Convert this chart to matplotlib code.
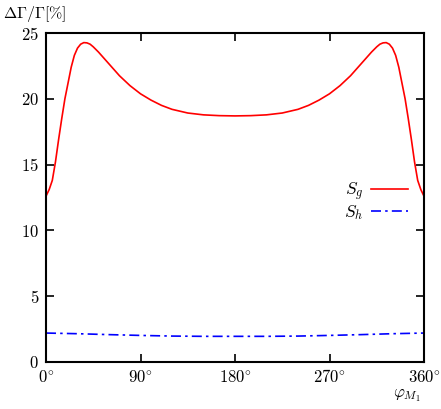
import matplotlib
matplotlib.use("Agg")
import matplotlib.pyplot as plt
import numpy as np

plt.rcParams['mathtext.fontset'] = 'cm'
plt.rcParams['font.family'] = 'serif'
plt.rcParams['font.serif'] = ['DejaVu Serif']

# data (half period, mirrored about 180 deg)
phi_half = [0, 3, 6, 9, 12, 15, 18, 21, 24, 27, 30, 33, 36, 39, 42, 45, 50, 55, 60, 70, 80, 90,
            100, 110, 120, 135, 150, 165, 180]
sg_half = [12.6, 13.1, 13.8, 15.2, 16.9, 18.5, 20.0, 21.2, 22.4, 23.3, 23.85, 24.15, 24.27, 24.25,
           24.15, 23.95, 23.55, 23.1, 22.65, 21.75, 21.0, 20.38, 19.9, 19.5, 19.2, 18.92, 18.78,
           18.72, 18.7]
phi_h_half = [0, 30, 60, 90, 120, 150, 180]
sh_half = [2.2, 2.15, 2.08, 2.02, 1.97, 1.95, 1.95]

phi = phi_half + [360 - p for p in phi_half[-2::-1]]
sg = sg_half + sg_half[-2::-1]
phi_h = phi_h_half + [360 - p for p in phi_h_half[-2::-1]]
sh = sh_half + sh_half[-2::-1]

xticks = [0, 90, 180, 270, 360]
xticklabels = [r'$0^{\circ}$', r'$90^{\circ}$', r'$180^{\circ}$', r'$270^{\circ}$', r'$360^{\circ}$']
yticks = [0, 5, 10, 15, 20, 25]

fig = plt.figure(figsize=(4.41, 4.09), dpi=100)
ax = fig.add_axes([46/441, 47/409, 378/441, 329/409])

ax.plot(phi, sg, color='#ff0000', lw=1.2, label=r'$S_g$')
ax.plot(phi_h, sh, color='#0000ff', lw=1.2, dashes=(6, 2.5, 1.5, 2.5), label=r'$S_h$')

ax.set_xlim(0, 360)
ax.set_ylim(0, 25)
ax.set_xticks(xticks)
ax.set_xticklabels(xticklabels)
ax.set_yticks(yticks)
ax.set_yticklabels([f'${v}$' for v in yticks])
ax.tick_params(direction='in', length=6, width=1.2, top=True, right=True, labelsize=12, pad=5)
for s in ax.spines.values():
    s.set_linewidth(1.5)

leg = ax.legend(loc='center right', bbox_to_anchor=(0.976, 0.487), frameon=False, markerfirst=False,
                fontsize=12.5, handlelength=2.13, handletextpad=0.45, labelspacing=0.0,
                borderpad=0.4, borderaxespad=0.0)

fig.text(3/441, 1 - 14/409, r'$\Delta\Gamma/\Gamma[\%]$', fontsize=11.5, va='center', ha='left')
fig.text(407/441, 1 - 396/409, r'$\varphi_{M_1}$', fontsize=12, va='center', ha='center')

fig.savefig('out.png', dpi=100)
